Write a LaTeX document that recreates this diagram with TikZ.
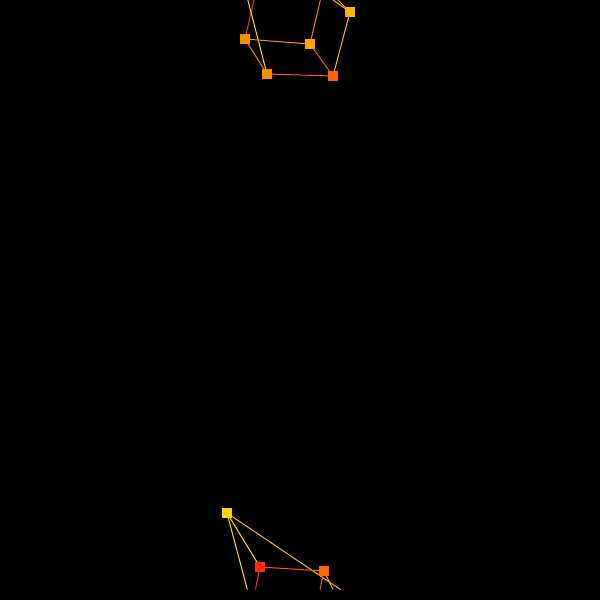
\documentclass[tikz,border=0pt]{standalone}
\usetikzlibrary{backgrounds}
\begin{document}
\begin{tikzpicture}[x=1pt,y=-1pt,
  sq/.style={rectangle,minimum size=10pt,inner sep=0pt,fill=#1},
  ln/.style={draw=#1,line width=1pt}]
\definecolor{cA}{HTML}{FF8C00}
\definecolor{cB}{HTML}{FFA500}
\definecolor{cC}{HTML}{FFB000}
\definecolor{cD}{HTML}{FF8C00}
\definecolor{cE}{HTML}{FF6400}
\definecolor{cF}{HTML}{FFD700}
\definecolor{cG}{HTML}{FF2A00}
\definecolor{cH}{HTML}{FF6A00}
\definecolor{lRed}{HTML}{FF3000}
\definecolor{lYel}{HTML}{FFE000}
\definecolor{lOr1}{HTML}{FF9500}
\definecolor{lOr2}{HTML}{FF7A00}
\definecolor{lOr3}{HTML}{FF5A00}
\definecolor{lGold}{HTML}{FFB800}
\useasboundingbox (0,0) rectangle (600,600);
% nodes
\node[sq=cA] (A) at (245,39) {};
\node[sq=cB] (B) at (310,44) {};
\node[sq=cC] (C) at (350,12) {};
\node[sq=cD] (D) at (267,74) {};
\node[sq=cE] (E) at (333,76) {};
\node[sq=cF] (F) at (227,513) {};
\node[sq=cG] (G) at (260,567) {};
\node[sq=cH] (H) at (324,571) {};
% free ends
\coordinate (tA) at (254.5,-2);
\coordinate (tD) at (247.3,-2);
\coordinate (tB) at (320.8,-2);
\coordinate (tC1) at (330.5,-2);
\coordinate (tC2) at (336,-2);
\coordinate (bF1) at (247.3,589.5);
\coordinate (bF2) at (340.5,589.5);
\coordinate (bG) at (255.5,589.5);
\coordinate (bH1) at (320,589.5);
\coordinate (bH2) at (333,589.5);
\begin{scope}[on background layer]
\fill[black] (0,0) rectangle (600,600);
\draw[ln=lRed] (A.center) -- (tA);
\draw[ln=lYel] (tD) -- (D.center);
\draw[ln=lOr1] (A.center) -- (B.center);
\draw[ln=lOr2] (A.center) -- (D.center);
\draw[ln=lOr3] (D.center) -- (E.center);
\draw[ln=lOr3] (B.center) -- (E.center);
\draw[ln=lOr2] (B.center) -- (tB);
\draw[ln=lGold] (C.center) -- (tC1);
\draw[ln=lGold] (C.center) -- (tC2);
\draw[ln=lGold] (C.center) -- (E.center);
\draw[ln=lYel] (F.center) -- (bF1);
\draw[ln=lYel] (F.center) -- (G.center);
\draw[ln=lGold] (F.center) -- (bF2);
\draw[ln=lRed] (G.center) -- (bG);
\draw[ln=lOr3] (G.center) -- (H.center);
\draw[ln=lOr3] (H.center) -- (bH1);
\draw[ln=lGold] (H.center) -- (bH2);
\end{scope}
\end{tikzpicture}
\end{document}
